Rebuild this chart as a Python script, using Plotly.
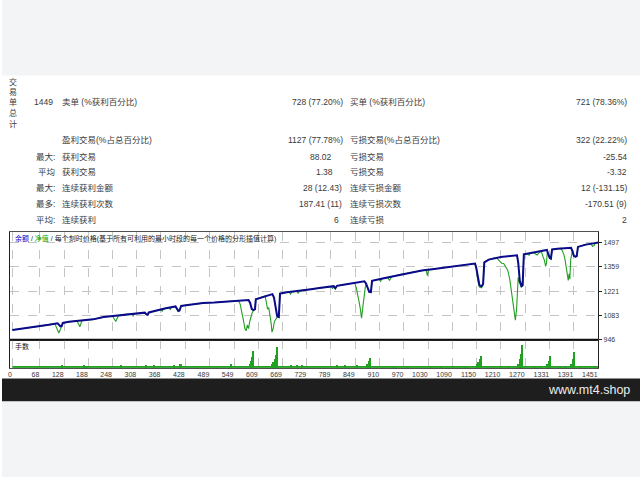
import plotly.graph_objects as go

W, H = 640, 480

# ---------------- data ----------------
x_ticks = [0, 68, 128, 188, 248, 308, 368, 428, 489, 549, 609, 669, 729, 789, 849,
           910, 970, 1030, 1090, 1150, 1210, 1270, 1331, 1391, 1451]
y_ticks = [946, 1083, 1221, 1359, 1497]

bal_t = [0, 30, 60, 90, 112, 116, 119, 122, 125, 140, 170, 200, 226, 255, 280, 310, 328, 332, 335, 338,
         360, 380, 404, 408, 411, 414, 418, 430, 450, 472, 500, 520, 540, 560, 585, 589, 593, 597, 601, 603,
         620, 644, 648, 652, 656, 660, 663, 680, 700, 718, 740, 760, 780, 796, 800, 804, 820, 840, 860, 872,
         876, 880, 884, 888, 891, 920, 940, 960, 990, 1014, 1040, 1060, 1080, 1100, 1125, 1146, 1149, 1153,
         1157, 1162, 1166, 1169, 1180, 1210, 1230, 1250, 1253, 1257, 1261, 1264, 1267, 1285, 1300, 1324,
         1327, 1331, 1334, 1337, 1350, 1370, 1384, 1387, 1391, 1395, 1398, 1401, 1420, 1440, 1451]
balance = [1002, 1011, 1020, 1031, 1040, 1030, 1022, 1024, 1042, 1048, 1055, 1062, 1075, 1082, 1090, 1095,
           1100, 1090, 1088, 1101, 1115, 1125, 1135, 1122, 1110, 1112, 1138, 1142, 1148, 1154, 1157, 1160,
           1164, 1168, 1172, 1155, 1120, 1114, 1120, 1176, 1188, 1205, 1185, 1120, 1080, 1076, 1208, 1215,
           1220, 1226, 1233, 1240, 1246, 1250, 1238, 1252, 1258, 1266, 1272, 1277, 1265, 1240, 1218, 1216,
           1280, 1295, 1305, 1315, 1328, 1339, 1346, 1352, 1357, 1362, 1370, 1378, 1355, 1290, 1255, 1249,
           1262, 1385, 1400, 1415, 1420, 1425, 1385, 1280, 1250, 1255, 1430, 1438, 1445, 1455, 1435, 1410,
           1406, 1458, 1462, 1465, 1467, 1450, 1422, 1417, 1420, 1472, 1485, 1492, 1497]

eq_t = [0, 30, 60, 90, 105, 109, 112, 115, 118, 121, 125, 140, 160, 164, 167, 170, 173, 200, 226, 248,
        252, 256, 260, 263, 280, 296, 299, 302, 310, 328, 332, 335, 338, 360, 368, 371, 374, 380, 388, 391,
        394, 404, 408, 411, 414, 418, 430, 450, 472, 500, 520, 540, 560, 564, 568, 572, 576, 579, 582, 585,
        588, 591, 594, 597, 601, 603, 620, 626, 629, 632, 635, 638, 641, 643, 646, 649, 652, 656, 660, 663,
        680, 686, 689, 692, 700, 705, 708, 711, 718, 740, 760, 780, 790, 793, 796, 800, 804, 820, 840, 848,
        852, 856, 859, 862, 865, 868, 871, 874, 876, 880, 884, 888, 891, 908, 912, 916, 920, 930, 934, 938,
        940, 960, 990, 1014, 1025, 1028, 1031, 1040, 1060, 1080, 1100, 1125, 1146, 1149, 1153, 1157, 1162,
        1166, 1169, 1180, 1195, 1200, 1206, 1212, 1217, 1222, 1227, 1232, 1237, 1241, 1244, 1246, 1249,
        1251, 1253, 1256, 1259, 1261, 1264, 1267, 1275, 1280, 1283, 1290, 1296, 1300, 1305, 1310, 1314,
        1318, 1321, 1323, 1325, 1327, 1331, 1334, 1337, 1350, 1358, 1362, 1366, 1369, 1372, 1375, 1377,
        1379, 1381, 1383, 1385, 1387, 1391, 1395, 1398, 1401, 1420, 1433, 1437, 1441, 1444, 1451]
equity = [1002, 1011, 1020, 1031, 1038, 1015, 995, 985, 1000, 1022, 1042, 1048, 1053, 1035, 1020, 1040,
          1056, 1062, 1075, 1081, 1062, 1050, 1070, 1083, 1090, 1093, 1082, 1094, 1095, 1100, 1090, 1088,
          1101, 1115, 1118, 1108, 1119, 1125, 1128, 1118, 1129, 1135, 1118, 1105, 1110, 1138, 1142, 1148,
          1154, 1157, 1160, 1164, 1168, 1150, 1110, 1060, 1010, 997, 1030, 1010, 1050, 1080, 1100, 1112,
          1120, 1176, 1188, 1195, 1160, 1120, 1128, 1090, 1040, 990, 1010, 1050, 1060, 1075, 1074, 1208,
          1215, 1216, 1205, 1217, 1220, 1221, 1208, 1222, 1226, 1233, 1240, 1246, 1248, 1236, 1245, 1236,
          1252, 1258, 1266, 1269, 1240, 1200, 1160, 1120, 1069, 1130, 1200, 1240, 1262, 1238, 1216, 1214,
          1280, 1290, 1278, 1292, 1295, 1299, 1282, 1303, 1305, 1315, 1328, 1339, 1342, 1310, 1343, 1346,
          1352, 1357, 1362, 1370, 1378, 1350, 1280, 1245, 1240, 1255, 1385, 1400, 1410, 1408, 1395, 1380,
          1378, 1362, 1340, 1290, 1210, 1140, 1080, 1058, 1120, 1200, 1300, 1270, 1250, 1245, 1250, 1430,
          1433, 1425, 1436, 1440, 1432, 1426, 1440, 1447, 1420, 1395, 1362, 1380, 1440, 1432, 1406, 1403,
          1458, 1462, 1464, 1452, 1430, 1400, 1350, 1300, 1283, 1320, 1290, 1400, 1440, 1445, 1418, 1414,
          1418, 1472, 1485, 1490, 1475, 1480, 1494, 1497]

base_lot = 0.01
vol_t = [123, 177, 182, 270, 332, 352, 401, 416, 419, 541, 588, 591, 594, 597, 644, 647, 650, 653, 656,
         691, 706, 718, 805, 824, 854, 880, 883, 886, 946, 980, 1038, 1063, 1092, 1124, 1152, 1155, 1158,
         1161, 1210, 1230, 1254, 1257, 1260, 1263, 1292, 1309, 1326, 1329, 1332, 1358, 1370, 1385, 1388,
         1391, 1407, 1444]
vol_v = [0.04, 0.04, 0.03, 0.04, 0.04, 0.04, 0.04, 0.05, 0.05, 0.05, 0.06, 0.10, 0.16, 0.24, 0.05, 0.08,
         0.12, 0.19, 0.30, 0.04, 0.04, 0.04, 0.04, 0.04, 0.04, 0.06, 0.10, 0.14, 0.03, 0.03, 0.03, 0.03,
         0.03, 0.03, 0.05, 0.08, 0.12, 0.17, 0.03, 0.03, 0.06, 0.12, 0.20, 0.33, 0.03, 0.03, 0.06, 0.10,
         0.17, 0.03, 0.03, 0.06, 0.12, 0.23, 0.03, 0.03]

side_label = ["交", "易", "单", "总", "计"]
row_label1 = ["1449", "", "最大:", "平均", "最大:", "最多:", "平均:"]
row_label2 = ["卖单 (%获利百分比)", "盈利交易(%占总百分比)", "获利交易", "获利交易",
              "连续获利金额", "连续获利次数", "连续获利"]
row_value1 = ["728 (77.20%)", "1127 (77.78%)", "88.02", "1.38", "28 (12.43)", "187.41 (11)", "6"]
row_label3 = ["买单 (%获利百分比)", "亏损交易(%占总百分比)", "亏损交易", "亏损交易",
              "连续亏损金额", "连续亏损次数", "连续亏损"]
row_value2 = ["721 (78.36%)", "322 (22.22%)", "-25.54", "-3.32", "12 (-131.15)", "-170.51 (9)", "2"]

chart_title_parts = ["余额", "净值", "每个刻时价格(基于所有可利用的最小时段的每一个价格的分形插值计算)"]
volume_label = "手数"
watermark = "www.mt4.shop"

# ---------------- styling ----------------
FONT = "Liberation Sans, Noto Sans CJK SC, sans-serif"
TXT = "#3a3a3a"
BLUE = "#0a0a8a"
GREEN = "#22a022"
GRID = "#c4c4c4"
FRAME = "#505050"


def px(x):
    return x / W


def py(y):
    return 1 - y / H


fig = go.Figure()

fig.add_trace(go.Scatter(x=eq_t, y=equity, mode="lines", line=dict(color=GREEN, width=1.1),
                         xaxis="x", yaxis="y", hoverinfo="skip", showlegend=False))
fig.add_trace(go.Scatter(x=bal_t, y=balance, mode="lines", line=dict(color=BLUE, width=2),
                         xaxis="x", yaxis="y", hoverinfo="skip", showlegend=False))
fig.add_trace(go.Scatter(x=[x_ticks[0], x_ticks[-1]], y=[base_lot, base_lot], mode="lines",
                         fill="tozeroy", fillcolor=GREEN, line=dict(color=GREEN, width=1.8),
                         xaxis="x2", yaxis="y2", hoverinfo="skip", showlegend=False))
fig.add_trace(go.Bar(x=vol_t, y=vol_v, width=3.5, marker=dict(color=GREEN, line=dict(width=0)),
                     xaxis="x2", yaxis="y2", hoverinfo="skip", showlegend=False))

xdom = [px(8), px(598)]
xr = [-6, 1451]
common_x = dict(domain=xdom, range=xr, tickvals=x_ticks, showgrid=True, gridcolor=GRID,
                griddash="dash", gridwidth=1, zeroline=False, showline=True, mirror=True,
                linecolor=FRAME, linewidth=1, fixedrange=True)

fig.update_layout(
    width=W, height=H,
    margin=dict(l=0, r=0, t=0, b=0),
    paper_bgcolor="white", plot_bgcolor="white",
    font=dict(family=FONT, color=TXT),
    bargap=0,
    xaxis=dict(**common_x, anchor="y", showticklabels=False, ticks=""),
    yaxis=dict(domain=[py(342), py(233)], range=[946, 1559], side="right", tickvals=y_ticks,
               showgrid=True, gridcolor=GRID, griddash="dash", zeroline=False, showline=True,
               mirror=True, linecolor="#202020", linewidth=1, ticks="outside", ticklen=3,
               tickcolor="#202020", tickfont=dict(size=7, color=TXT, family=FONT), anchor="x"),
    xaxis2=dict(**common_x, anchor="y2", ticks="", ticklabelposition="outside left",
                tickfont=dict(size=7, color=TXT, family=FONT)),
    yaxis2=dict(domain=[py(370), py(342)], range=[0, 0.4], showticklabels=False, showgrid=False,
                zeroline=False, showline=True, mirror=True, linecolor="#202020", side="right",
                anchor="x2", fixedrange=True),
)

# background bands and the panel separator
shapes = [
    dict(type="rect", xref="paper", yref="paper", x0=0, x1=1, y0=py(76), y1=1,
         fillcolor="#f3f4f6", line=dict(width=0), layer="below"),
    dict(type="rect", xref="paper", yref="paper", x0=0, x1=1, y0=py(404), y1=py(381),
         fillcolor="#1e1e1e", line=dict(width=0), layer="below"),
    dict(type="rect", xref="paper", yref="paper", x0=0, x1=1, y0=0, y1=py(404),
         fillcolor="#f3f4f6", line=dict(width=0), layer="below"),
    dict(type="line", xref="paper", yref="paper", x0=px(8), x1=px(598), y0=py(342), y1=py(342),
         line=dict(color="#101010", width=2), layer="above"),
]
fig.update_layout(shapes=shapes)

ann = []


def text(x, y, s, anchor="left", size=8.5, color=TXT):
    ann.append(dict(x=px(x), y=py(y), xref="paper", yref="paper", text=s, showarrow=False,
                    xanchor=anchor, yanchor="middle", font=dict(size=size, color=color, family=FONT)))


side_y = [83, 93, 103, 114, 125]
for ch, yy in zip(side_label, side_y):
    text(11.5, yy, ch, anchor="center", size=8)

row_y = [103, 141, 158, 173, 189, 205, 221]
v1_right = [344, 344, 333, 334, 343, 343, 340]
for i, yy in enumerate(row_y):
    if row_label1[i]:
        text(55 if i else 53, yy, row_label1[i], anchor="right")
    text(58, yy, row_label2[i])
    text(v1_right[i], yy, row_value1[i], anchor="right")
    text(347, yy, row_label3[i])
    text(629, yy, row_value2[i], anchor="right")

title_html = ("<span style='color:#0000c8'>%s</span> / <span style='color:#00a000'>%s</span> / %s"
              % tuple(chart_title_parts))
text(11, 240, title_html, size=7, color="#202020")
text(11, 349, volume_label, size=7, color="#202020")
text(632, 392, watermark, anchor="right", size=12.5, color="#ececec")

fig.update_layout(annotations=ann)

fig.write_html("out.html", config={"displayModeBar": False},
               post_script="document.body.style.margin='0';document.body.style.overflow='hidden';")
